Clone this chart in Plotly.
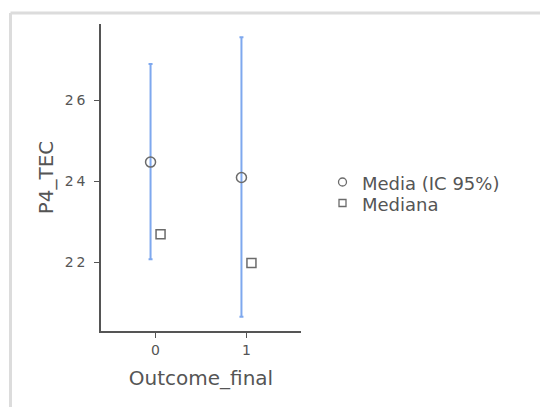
import plotly.graph_objects as go

categories = ["0", "1"]
cat_pos = [0, 1]
mean_vals = [24.47, 24.09]
ci_upper = [26.89, 27.55]
ci_lower = [22.07, 20.65]
median_vals = [22.69, 21.98]
y_ticks = [22, 24, 26]
y_ticktext = ["2\u20092", "2\u20094", "2\u20096"]
legend_labels = ["Media (IC 95%)", "Mediana"]

GRAY = "#555555"
MARK = "#6b6b6b"
BLUE = "#7ea8ee"

offset = 0.055
fig = go.Figure()
fig.add_trace(go.Scatter(
    x=[p - offset for p in cat_pos], y=mean_vals, mode="markers",
    name=legend_labels[0], showlegend=False,
    marker=dict(symbol="circle-open", size=10, color=MARK, line=dict(width=1.5)),
    error_y=dict(type="data", symmetric=False,
                 array=[u - m for u, m in zip(ci_upper, mean_vals)],
                 arrayminus=[m - l for l, m in zip(ci_lower, mean_vals)],
                 color=BLUE, thickness=2, width=2),
))
fig.add_trace(go.Scatter(
    x=[p + offset for p in cat_pos], y=median_vals, mode="markers",
    name=legend_labels[1], showlegend=False,
    marker=dict(symbol="square-open", size=9, color=MARK, line=dict(width=1.5)),
))

# page offset (body margin)
OFF = 8
W, H = 540, 399
L, T = 101 - OFF, 24 - OFF
R = W - (301 - OFF)
B = H - (331 - OFF)
pw, ph = W - L - R, H - T - B

def px2x(px):
    return (px - OFF - L) / pw

def py2y(py):
    return (H - B - (py - OFF)) / ph

# frame lines
fig.add_shape(type="line", xref="paper", yref="paper",
              x0=px2x(10.5), x1=px2x(600), y0=py2y(13), y1=py2y(13),
              line=dict(color="#dcdcdc", width=3))
fig.add_shape(type="line", xref="paper", yref="paper",
              x0=px2x(10.5), x1=px2x(10.5), y0=py2y(13), y1=py2y(450),
              line=dict(color="#dcdcdc", width=3))

# custom legend
leg_rows = [182, 203]
fig.add_shape(type="circle", xref="paper", yref="paper",
              x0=px2x(338.5), x1=px2x(346.5), y0=py2y(leg_rows[0] - 4), y1=py2y(leg_rows[0] + 4),
              line=dict(color=MARK, width=1.3))
fig.add_shape(type="rect", xref="paper", yref="paper",
              x0=px2x(339), x1=px2x(346), y0=py2y(leg_rows[1] - 3.5), y1=py2y(leg_rows[1] + 3.5),
              line=dict(color=MARK, width=1.3))
for lab, ry in zip(legend_labels, leg_rows):
    fig.add_annotation(text=lab, xref="paper", yref="paper", x=px2x(361), y=py2y(ry + 1),
                       xanchor="left", yanchor="middle", showarrow=False, borderpad=0,
                       font=dict(size=18, color=GRAY, family="DejaVu Sans"))

fig.update_layout(
    width=W, height=H,
    margin=dict(l=L, r=R, t=T, b=B),
    paper_bgcolor="white", plot_bgcolor="white",
    font=dict(family="DejaVu Sans", color=GRAY),
    showlegend=False,
    xaxis=dict(range=[-0.6, 1.6], tickvals=cat_pos, ticktext=categories,
               showline=True, linecolor=GRAY, linewidth=1.5,
               ticks="outside", ticklen=5, tickcolor=GRAY,
               showgrid=False, zeroline=False,
               tickfont=dict(size=14, color=GRAY),
               title=dict(text="Outcome_final", font=dict(size=20, color=GRAY), standoff=14)),
    yaxis=dict(range=[20.30, 27.88], tickvals=y_ticks, ticktext=y_ticktext,
               showline=True, linecolor=GRAY, linewidth=1.5,
               ticks="outside", ticklen=5, tickcolor=GRAY,
               showgrid=False, zeroline=False,
               tickfont=dict(size=14, color=GRAY),
               ticklabelstandoff=6,
               title=dict(text="P4_TEC", font=dict(size=20, color=GRAY), standoff=6)),
)

fig.write_html("out.html")
